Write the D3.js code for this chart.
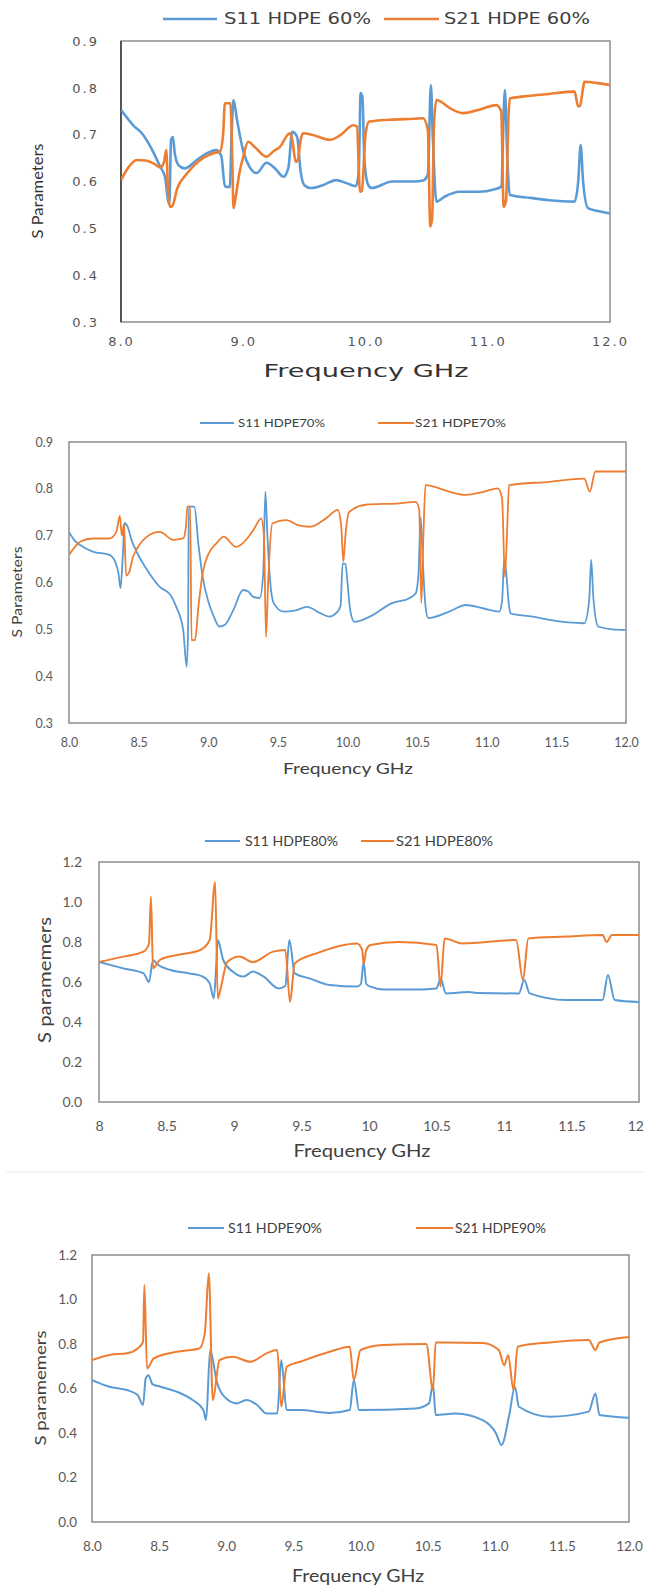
<!DOCTYPE html>
<html>
<head>
<meta charset="utf-8">
<script src="https://cdn.jsdelivr.net/npm/d3@7"></script>
<style>
  html, body { margin: 0; padding: 0; background: #fff; }
  svg { display: block; }
</style>
</head>
<body>
<svg id="fig" width="646" height="1589"></svg>
<script>
// ---- Measured S-parameters, [frequency GHz, magnitude] ----

// HDPE 60 %
const s11_60 = [[8.00,0.753],[8.10,0.72],[8.18,0.70],[8.26,0.665],[8.32,0.632],[8.36,0.61],[8.385,0.56],[8.395,0.552],[8.41,0.69],[8.425,0.695],[8.44,0.66],[8.47,0.635],[8.52,0.628],[8.62,0.646],[8.70,0.66],[8.78,0.667],[8.82,0.655],[8.85,0.59],[8.89,0.588],[8.905,0.70],[8.92,0.774],[8.95,0.73],[9.00,0.665],[9.05,0.632],[9.11,0.618],[9.19,0.64],[9.26,0.628],[9.33,0.61],[9.37,0.63],[9.40,0.706],[9.44,0.696],[9.47,0.62],[9.50,0.592],[9.55,0.586],[9.65,0.592],[9.76,0.603],[9.85,0.596],[9.92,0.59],[9.945,0.62],[9.96,0.789],[9.975,0.78],[9.99,0.65],[10.02,0.594],[10.05,0.586],[10.22,0.60],[10.40,0.60],[10.47,0.602],[10.51,0.615],[10.535,0.806],[10.55,0.70],[10.58,0.557],[10.65,0.568],[10.77,0.578],[10.93,0.578],[11.05,0.583],[11.11,0.589],[11.14,0.795],[11.16,0.65],[11.18,0.571],[11.35,0.565],[11.50,0.56],[11.71,0.557],[11.74,0.60],[11.76,0.678],[11.78,0.60],[11.82,0.543],[11.90,0.537],[12.00,0.532]];
const s21_60 = [[8.00,0.603],[8.06,0.63],[8.13,0.646],[8.20,0.645],[8.27,0.638],[8.32,0.63],[8.35,0.64],[8.37,0.667],[8.385,0.58],[8.40,0.546],[8.42,0.548],[8.46,0.585],[8.54,0.617],[8.60,0.635],[8.67,0.65],[8.75,0.66],[8.81,0.664],[8.835,0.70],[8.85,0.767],[8.895,0.767],[8.91,0.65],[8.92,0.543],[8.94,0.57],[8.97,0.62],[9.00,0.653],[9.04,0.685],[9.10,0.672],[9.19,0.653],[9.25,0.665],[9.30,0.674],[9.38,0.703],[9.40,0.69],[9.43,0.642],[9.445,0.645],[9.47,0.69],[9.49,0.703],[9.56,0.70],[9.71,0.689],[9.80,0.70],[9.90,0.72],[9.93,0.717],[9.955,0.578],[9.97,0.58],[10.00,0.70],[10.03,0.728],[10.20,0.732],[10.40,0.734],[10.47,0.735],[10.51,0.71],[10.53,0.504],[10.545,0.52],[10.56,0.72],[10.58,0.774],[10.70,0.755],[10.80,0.746],[10.95,0.755],[11.07,0.763],[11.11,0.75],[11.13,0.546],[11.15,0.56],[11.17,0.74],[11.18,0.777],[11.35,0.783],[11.50,0.787],[11.71,0.792],[11.74,0.76],[11.755,0.762],[11.78,0.80],[11.79,0.813],[11.90,0.81],[12.00,0.806]];

// HDPE 70 %
const s11_70 = [[8.00,0.708],[8.04,0.69],[8.08,0.68],[8.17,0.666],[8.29,0.659],[8.33,0.645],[8.355,0.62],[8.37,0.588],[8.385,0.65],[8.40,0.727],[8.42,0.72],[8.45,0.69],[8.49,0.663],[8.56,0.627],[8.65,0.591],[8.73,0.573],[8.77,0.548],[8.82,0.499],[8.845,0.42],[8.855,0.50],[8.86,0.762],[8.90,0.762],[8.93,0.68],[8.96,0.612],[9.00,0.56],[9.04,0.527],[9.08,0.506],[9.12,0.51],[9.18,0.541],[9.25,0.584],[9.29,0.58],[9.32,0.57],[9.37,0.567],[9.395,0.62],[9.41,0.794],[9.425,0.70],[9.44,0.62],[9.47,0.556],[9.54,0.538],[9.62,0.54],[9.71,0.548],[9.80,0.535],[9.87,0.527],[9.92,0.535],[9.95,0.55],[9.965,0.641],[9.985,0.64],[10.00,0.60],[10.02,0.54],[10.05,0.516],[10.16,0.527],[10.32,0.556],[10.44,0.566],[10.49,0.577],[10.51,0.62],[10.525,0.74],[10.54,0.65],[10.56,0.55],[10.58,0.524],[10.73,0.538],[10.85,0.552],[10.97,0.545],[11.09,0.538],[11.11,0.56],[11.125,0.648],[11.14,0.62],[11.16,0.55],[11.17,0.534],[11.33,0.527],[11.45,0.52],[11.70,0.513],[11.735,0.56],[11.75,0.648],[11.765,0.57],[11.80,0.506],[11.90,0.50],[12.00,0.499]];
const s21_70 = [[8.00,0.659],[8.04,0.675],[8.08,0.687],[8.17,0.694],[8.29,0.694],[8.34,0.708],[8.365,0.742],[8.38,0.70],[8.395,0.725],[8.41,0.615],[8.43,0.62],[8.46,0.655],[8.49,0.673],[8.56,0.698],[8.65,0.708],[8.75,0.691],[8.82,0.694],[8.84,0.72],[8.85,0.762],[8.87,0.762],[8.88,0.477],[8.905,0.477],[8.93,0.55],[8.96,0.62],[9.00,0.66],[9.06,0.684],[9.11,0.698],[9.20,0.676],[9.28,0.694],[9.33,0.715],[9.38,0.737],[9.40,0.70],[9.415,0.484],[9.43,0.60],[9.46,0.726],[9.56,0.733],[9.65,0.722],[9.73,0.719],[9.85,0.738],[9.93,0.755],[9.955,0.72],[9.97,0.645],[9.985,0.70],[10.01,0.75],[10.13,0.766],[10.37,0.769],[10.49,0.772],[10.515,0.755],[10.53,0.556],[10.545,0.70],[10.56,0.808],[10.73,0.794],[10.85,0.787],[10.97,0.793],[11.08,0.801],[11.11,0.78],[11.13,0.612],[11.145,0.70],[11.16,0.808],[11.45,0.815],[11.70,0.822],[11.74,0.794],[11.78,0.837],[12.00,0.837]];

// HDPE 80 %
const s11_80 = [[8.00,0.70],[8.18,0.668],[8.33,0.643],[8.37,0.60],[8.40,0.71],[8.43,0.69],[8.53,0.66],[8.67,0.643],[8.77,0.627],[8.82,0.593],[8.85,0.518],[8.87,0.70],[8.88,0.81],[8.92,0.71],[8.99,0.652],[9.07,0.627],[9.14,0.652],[9.22,0.627],[9.33,0.568],[9.38,0.58],[9.41,0.81],[9.45,0.643],[9.56,0.618],[9.71,0.585],[9.91,0.577],[9.94,0.59],[9.96,0.70],[9.98,0.59],[10.01,0.577],[10.11,0.563],[10.30,0.562],[10.50,0.568],[10.53,0.618],[10.57,0.543],[10.67,0.547],[10.74,0.55],[10.80,0.545],[11.11,0.543],[11.15,0.61],[11.19,0.543],[11.46,0.51],[11.73,0.51],[11.77,0.635],[11.82,0.51],[12.00,0.50]];
const s21_80 = [[8.00,0.70],[8.18,0.727],[8.33,0.752],[8.37,0.79],[8.385,1.027],[8.40,0.668],[8.45,0.71],[8.58,0.735],[8.75,0.76],[8.82,0.81],[8.86,1.10],[8.88,0.518],[8.895,0.55],[8.95,0.70],[9.04,0.727],[9.14,0.70],[9.29,0.752],[9.38,0.76],[9.415,0.50],[9.45,0.693],[9.61,0.743],[9.91,0.793],[9.95,0.76],[9.96,0.69],[9.98,0.76],[10.01,0.785],[10.22,0.80],[10.50,0.785],[10.53,0.577],[10.56,0.818],[10.69,0.793],[11.09,0.81],[11.14,0.61],[11.18,0.818],[11.46,0.827],[11.73,0.835],[11.76,0.80],[11.80,0.835],[12.00,0.835]];

// HDPE 90 %
const s11_90 = [[8.00,0.638],[8.13,0.608],[8.26,0.593],[8.34,0.571],[8.38,0.526],[8.40,0.645],[8.42,0.66],[8.45,0.62],[8.51,0.608],[8.63,0.586],[8.75,0.548],[8.83,0.503],[8.85,0.458],[8.88,0.773],[8.93,0.63],[9.00,0.555],[9.08,0.533],[9.15,0.548],[9.23,0.526],[9.30,0.488],[9.38,0.488],[9.41,0.728],[9.45,0.503],[9.55,0.503],[9.77,0.49],[9.92,0.503],[9.95,0.638],[9.99,0.503],[10.41,0.51],[10.51,0.533],[10.54,0.62],[10.56,0.481],[10.71,0.488],[10.91,0.458],[11.01,0.398],[11.05,0.346],[11.11,0.488],[11.15,0.608],[11.18,0.518],[11.41,0.473],[11.70,0.496],[11.75,0.578],[11.78,0.481],[12.00,0.469]];
const s21_90 = [[8.00,0.728],[8.13,0.751],[8.26,0.758],[8.34,0.78],[8.38,0.81],[8.39,1.065],[8.41,0.69],[8.46,0.735],[8.63,0.765],[8.80,0.78],[8.84,0.848],[8.87,1.118],[8.90,0.548],[8.95,0.728],[9.05,0.743],[9.18,0.72],[9.30,0.758],[9.38,0.773],[9.41,0.518],[9.45,0.698],[9.55,0.72],[9.77,0.765],[9.92,0.788],[9.95,0.638],[10.00,0.773],[10.17,0.795],[10.49,0.80],[10.54,0.593],[10.56,0.807],[10.91,0.805],[11.03,0.773],[11.07,0.705],[11.10,0.75],[11.14,0.593],[11.17,0.788],[11.41,0.807],[11.70,0.818],[11.75,0.773],[11.78,0.807],[12.00,0.832]];

// ---- Axis ticks and labels ----
const yTicksLow   = [0.3, 0.4, 0.5, 0.6, 0.7, 0.8, 0.9];
const yLabelsLow  = ["0.3", "0.4", "0.5", "0.6", "0.7", "0.8", "0.9"];
const yTicksFull  = [0.0, 0.2, 0.4, 0.6, 0.8, 1.0, 1.2];
const yLabelsFull = ["0.0", "0.2", "0.4", "0.6", "0.8", "1.0", "1.2"];
const xTicksWhole  = [8, 9, 10, 11, 12];
const xLabelsWhole = ["8.0", "9.0", "10.0", "11.0", "12.0"];
const xTicksHalf   = [8, 8.5, 9, 9.5, 10, 10.5, 11, 11.5, 12];
const xLabelsHalf  = ["8.0", "8.5", "9.0", "9.5", "10.0", "10.5", "11.0", "11.5", "12.0"];
const xLabelsPlain = ["8", "8.5", "9", "9.5", "10", "10.5", "11", "11.5", "12"];

// ---- Series names ----
const legend60 = ["S11 HDPE 60%", "S21 HDPE 60%"];
const legend70 = ["S11 HDPE70%", "S21 HDPE70%"];
const legend80 = ["S11 HDPE80%", "S21 HDPE80%"];
const legend90 = ["S11 HDPE90%", "S21 HDPE90%"];

const BLUE = "#5B9BD5", ORANGE = "#ED7D31";
const WIDE = "'DejaVu Sans', Verdana, sans-serif";
const NARROW = "Lato, 'Liberation Sans', Arial, sans-serif";
const PAGE_W = 646;

const svg = d3.select("#fig");
svg.append("rect").attr("width", 646).attr("height", 1589).attr("fill", "#fff");

function drawPanel(p) {
  const g = svg.append("g");
  const x = d3.scaleLinear().domain([8, 12]).range([p.left, p.right]);
  const y = d3.scaleLinear().domain(p.yDomain).range([p.bottom, p.top]);

  // plot frame
  g.append("rect")
    .attr("x", p.left).attr("y", p.top)
    .attr("width", p.right - p.left).attr("height", p.bottom - p.top)
    .attr("fill", "none").attr("stroke", p.frameColor).attr("stroke-width", p.frameWidth);
  if (p.leftAxisColor) {
    g.append("line").attr("x1", p.left).attr("x2", p.left).attr("y1", p.top).attr("y2", p.bottom)
      .attr("stroke", p.leftAxisColor).attr("stroke-width", p.frameWidth);
  }

  // y axis labels
  const ya = g.append("g").attr("transform", `translate(${p.left},0)`)
    .call(d3.axisLeft(y).tickValues(p.yTicks).tickSize(0).tickPadding(p.yPad)
      .tickFormat((d, i) => p.yLabels[i]));
  ya.select(".domain").remove();
  ya.selectAll("text")
    .attr("font-family", p.tickFont).attr("font-size", p.tickSize).attr("fill", p.tickColor)
    .attr("letter-spacing", p.tickSpacing || 0);

  // x axis labels
  const xa = g.append("g").attr("transform", `translate(0,${p.bottom})`)
    .call(d3.axisBottom(x).tickValues(p.xTicks).tickSize(0).tickPadding(p.xPad)
      .tickFormat((d, i) => p.xLabels[i]));
  xa.select(".domain").remove();
  xa.selectAll("text")
    .attr("font-family", p.tickFont).attr("font-size", p.tickSize).attr("fill", p.tickColor)
    .attr("letter-spacing", p.tickSpacing || 0);
  // keep the last label inside the page when the plot reaches the edge
  xa.selectAll("text").each(function () {
    const box = this.getBBox();
    const tick = this.parentNode.getAttribute("transform");
    const tx = +/translate\(([-\d.]+)/.exec(tick)[1];
    const overflow = tx + box.x + box.width - (PAGE_W - 2);
    if (overflow > 0) d3.select(this).attr("x", -overflow);
  });

  // series: S11 first, S21 on top
  const line = d3.line().x(d => x(d[0])).y(d => y(d[1])).curve(d3.curveMonotoneX);
  const clipId = "clip" + p.id;
  g.append("clipPath").attr("id", clipId).append("rect")
    .attr("x", p.left).attr("y", p.top - 2).attr("width", p.right - p.left).attr("height", p.bottom - p.top + 2);
  const colors = [BLUE, ORANGE];
  p.series.forEach((s, i) => {
    g.append("path").datum(s)
      .attr("d", line)
      .attr("fill", "none")
      .attr("stroke", colors[i])
      .attr("stroke-width", p.lineWidth)
      .attr("stroke-linejoin", "round")
      .attr("clip-path", `url(#${clipId})`);
  });

  // legend
  p.legend.forEach((name, i) => {
    const it = p.legendItems[i];
    g.append("line")
      .attr("x1", it.x1).attr("x2", it.x2).attr("y1", p.legendY).attr("y2", p.legendY)
      .attr("stroke", colors[i]).attr("stroke-width", p.lineWidth);
    g.append("text")
      .attr("x", it.tx).attr("y", p.legendY + p.legendSize * 0.36)
      .attr("font-family", p.legendFont).attr("font-size", p.legendSize).attr("fill", p.legendColor)
      .attr("textLength", it.tw).attr("lengthAdjust", "spacingAndGlyphs")
      .text(name);
  });

  // axis titles
  g.append("text")
    .attr("x", p.xTitle.cx).attr("y", p.xTitle.y)
    .attr("text-anchor", "middle")
    .attr("font-family", p.xTitle.font).attr("font-size", p.xTitle.size).attr("fill", p.xTitle.color)
    .attr("textLength", p.xTitle.w).attr("lengthAdjust", "spacingAndGlyphs")
    .text("Frequency GHz");
  g.append("text")
    .attr("transform", `translate(${p.yTitle.x},${p.yTitle.cy}) rotate(-90)`)
    .attr("text-anchor", "middle")
    .attr("font-family", p.yTitle.font).attr("font-size", p.yTitle.size).attr("fill", p.yTitle.color)
    .attr("textLength", p.yTitle.w).attr("lengthAdjust", "spacingAndGlyphs")
    .text(p.yTitle.text);
}

// Panel: HDPE 60 %
drawPanel({
  id: 60, series: [s11_60, s21_60], legend: legend60,
  left: 121, right: 610, top: 41, bottom: 322,
  yDomain: [0.3, 0.9], yTicks: yTicksLow, yLabels: yLabelsLow,
  xTicks: xTicksWhole, xLabels: xLabelsWhole,
  frameColor: "#8c8c8c", frameWidth: 1.5, leftAxisColor: "#3a3a3a",
  tickFont: WIDE, tickSize: 13, tickColor: "#555", tickSpacing: 2,
  yPad: 22, xPad: 15,
  lineWidth: 2.6,
  legendY: 19, legendFont: WIDE, legendSize: 15, legendColor: "#404040",
  legendItems: [{x1: 163, x2: 217, tx: 224, tw: 147}, {x1: 384, x2: 439, tx: 444, tw: 146}],
  xTitle: {cx: 366, y: 377, font: WIDE, size: 18, color: "#333", w: 205},
  yTitle: {x: 43, cy: 191, font: NARROW, size: 15, color: "#333", w: 95, text: "S Parameters"}
});

// Panel: HDPE 70 %
drawPanel({
  id: 70, series: [s11_70, s21_70], legend: legend70,
  left: 69, right: 626, top: 442, bottom: 723,
  yDomain: [0.3, 0.9], yTicks: yTicksLow, yLabels: yLabelsLow,
  xTicks: xTicksHalf, xLabels: xLabelsHalf,
  frameColor: "#8c8c8c", frameWidth: 1.5,
  tickFont: NARROW, tickSize: 12.5, tickColor: "#595959",
  yPad: 16, xPad: 15,
  lineWidth: 1.8,
  legendY: 423, legendFont: NARROW, legendSize: 12, legendColor: "#404040",
  legendItems: [{x1: 200, x2: 234, tx: 238, tw: 87}, {x1: 378, x2: 414, tx: 415, tw: 91}],
  xTitle: {cx: 348, y: 774, font: NARROW, size: 16, color: "#404040", w: 130},
  yTitle: {x: 22, cy: 592, font: NARROW, size: 13, color: "#404040", w: 91, text: "S Parameters"}
});

// Panel: HDPE 80 %
drawPanel({
  id: 80, series: [s11_80, s21_80], legend: legend80,
  left: 99, right: 639, top: 862, bottom: 1102,
  yDomain: [0, 1.2], yTicks: yTicksFull, yLabels: yLabelsFull,
  xTicks: xTicksHalf, xLabels: xLabelsPlain,
  frameColor: "#8c8c8c", frameWidth: 1.5,
  tickFont: NARROW, tickSize: 14, tickColor: "#595959",
  yPad: 17, xPad: 19,
  lineWidth: 2,
  legendY: 841, legendFont: NARROW, legendSize: 13.5, legendColor: "#404040",
  legendItems: [{x1: 205, x2: 240, tx: 245, tw: 93}, {x1: 361, x2: 394, tx: 396, tw: 97}],
  xTitle: {cx: 362, y: 1157, font: NARROW, size: 18, color: "#404040", w: 137},
  yTitle: {x: 51, cy: 980, font: NARROW, size: 17, color: "#404040", w: 126, text: "S paramemers"}
});

// thin divider between the last two figures
svg.append("line").attr("x1", 6).attr("x2", 646).attr("y1", 1172).attr("y2", 1172)
  .attr("stroke", "#ececec").attr("stroke-width", 1);

// Panel: HDPE 90 %
drawPanel({
  id: 90, series: [s11_90, s21_90], legend: legend90,
  left: 92, right: 629, top: 1255, bottom: 1522,
  yDomain: [0, 1.2], yTicks: yTicksFull, yLabels: yLabelsFull,
  xTicks: xTicksHalf, xLabels: xLabelsHalf,
  frameColor: "#8c8c8c", frameWidth: 1.5,
  tickFont: NARROW, tickSize: 13.5, tickColor: "#595959",
  yPad: 15, xPad: 19,
  lineWidth: 2,
  legendY: 1228, legendFont: NARROW, legendSize: 12.5, legendColor: "#404040",
  legendItems: [{x1: 188, x2: 224, tx: 228, tw: 94}, {x1: 416, x2: 453, tx: 455, tw: 91}],
  xTitle: {cx: 358, y: 1582, font: NARROW, size: 17, color: "#404040", w: 132},
  yTitle: {x: 46, cy: 1388, font: NARROW, size: 16, color: "#404040", w: 115, text: "S paramemers"}
});
</script>
</body>
</html>
